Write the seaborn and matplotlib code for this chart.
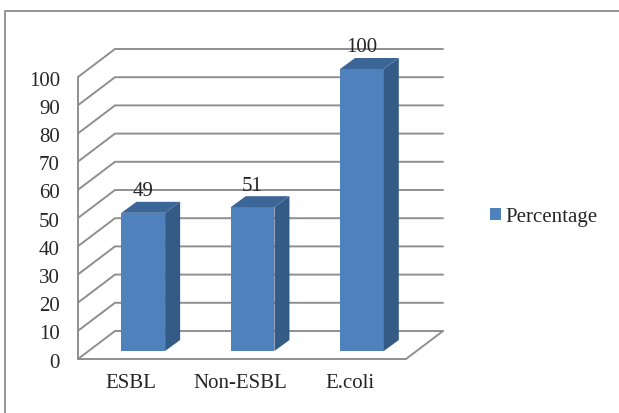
import matplotlib
matplotlib.use("Agg")
import matplotlib.pyplot as plt
from matplotlib.patches import Polygon, Patch
from matplotlib.lines import Line2D
import pandas as pd
import seaborn as sns

# Data
categories = ["ESBL", "Non-ESBL", "E.coli"]
percentages = [49, 51, 100]
series_name = "Percentage"
y_ticks = list(range(0, 101, 10))

sns.set_style("white")
plt.rcParams["font.family"] = ["Liberation Serif", "DejaVu Serif"]
plt.rcParams["font.size"] = 15

FRONT = "#4f81bd"
SIDE = "#345a86"
TOP = "#3d6698"
GRID = "#8f8f8f"

W, H, DPI = 619, 413, 100
fig = plt.figure(figsize=(W / DPI, H / DPI), dpi=DPI)

# The axes spans the plane of the bar front faces (pixel layout)
left_px, right_px = 88.6, 416.6
bottom_px, top_px = 351.0, 69.0
ax = fig.add_axes([left_px / W, 1 - bottom_px / H,
                   (right_px - left_px) / W, (bottom_px - top_px) / H])

df = pd.DataFrame({"category": categories, "value": percentages})
sns.barplot(data=df, x="category", y="value", color=FRONT, saturation=1,
            width=0.4, edgecolor="none", ax=ax, zorder=3)
ax.set_xlim(-0.5, 2.5)
ax.set_ylim(0, 100)
ax.axis("off")

# pixel -> data scale factors
x0d, y0d = ax.transData.transform((0, 0))
x1d, y1d = ax.transData.transform((1, 1))
sx, sy = x1d - x0d, y1d - y0d


def px(dx, dy):
    return dx / sx, dy / sy


# depth offsets of the front wall, back wall and bar depth (in pixels)
fdx, fdy = px(-10.6, -8)
bdx, bdy = px(26.4, 20)
bar_dx, bar_dy = px(15, 11)
xl, xr = ax.get_xlim()

lw = 1.4
for t in y_ticks:
    ax.plot([xl + fdx, xl + bdx, xr + bdx], [t + fdy, t + bdy, t + bdy],
            color=GRID, lw=lw, clip_on=False, zorder=1,
            solid_joinstyle="miter")
# side wall front edge
ax.plot([xl + fdx, xl + fdx], [fdy, y_ticks[-1] + fdy], color=GRID, lw=lw,
        clip_on=False, zorder=1)
# floor outline
ax.plot([xl + fdx, xr + fdx, xr + bdx], [fdy, fdy, bdy], color=GRID, lw=lw,
        clip_on=False, zorder=1, solid_joinstyle="miter")

# 3D faces of the bars
for patch, v in zip(ax.patches, percentages):
    x_a = patch.get_x()
    x_b = x_a + patch.get_width()
    h = patch.get_height()
    side = Polygon([(x_b, 0), (x_b + bar_dx, bar_dy), (x_b + bar_dx, h + bar_dy), (x_b, h)],
                   closed=True, facecolor=SIDE, edgecolor="none", zorder=3, clip_on=False)
    top = Polygon([(x_a, h), (x_a + bar_dx, h + bar_dy), (x_b + bar_dx, h + bar_dy), (x_b, h)],
                  closed=True, facecolor=TOP, edgecolor="none", zorder=3, clip_on=False)
    ax.add_patch(side)
    ax.add_patch(top)
    ax.annotate(f"{v:g}", (patch.get_x() + patch.get_width() / 2, h),
                xytext=(0, 21), textcoords="offset pixels",
                ha="center", va="center", zorder=5, annotation_clip=False)

# value axis labels on the front wall
lab_dx, lab_dy = px(-18, -4)
for t in y_ticks:
    ax.text(xl + fdx + lab_dx, t + fdy + lab_dy, str(t), ha="right", va="center",
            clip_on=False)

# category labels under the floor front edge
cat_dx, cat_dy = px(-12.3, -33)
for i, c in enumerate(categories):
    ax.text(i + cat_dx, cat_dy, c, ha="center", va="center", clip_on=False)

# legend
handle = Patch(facecolor=FRONT, edgecolor="none")
fig.legend([handle], [series_name], loc="center left",
           bbox_to_anchor=(490 / W, 1 - 217 / H), frameon=False,
           borderpad=0, borderaxespad=0, handlelength=0.55, handleheight=0.55,
           handletextpad=0.2)

# chart area border (top and left edges)
fig.add_artist(Line2D([5 / W, 5 / W, 1], [0, 1 - 11 / H, 1 - 11 / H],
                      transform=fig.transFigure, color="#8c8c8c", lw=1.3))

fig.savefig("out.png", dpi=DPI)
